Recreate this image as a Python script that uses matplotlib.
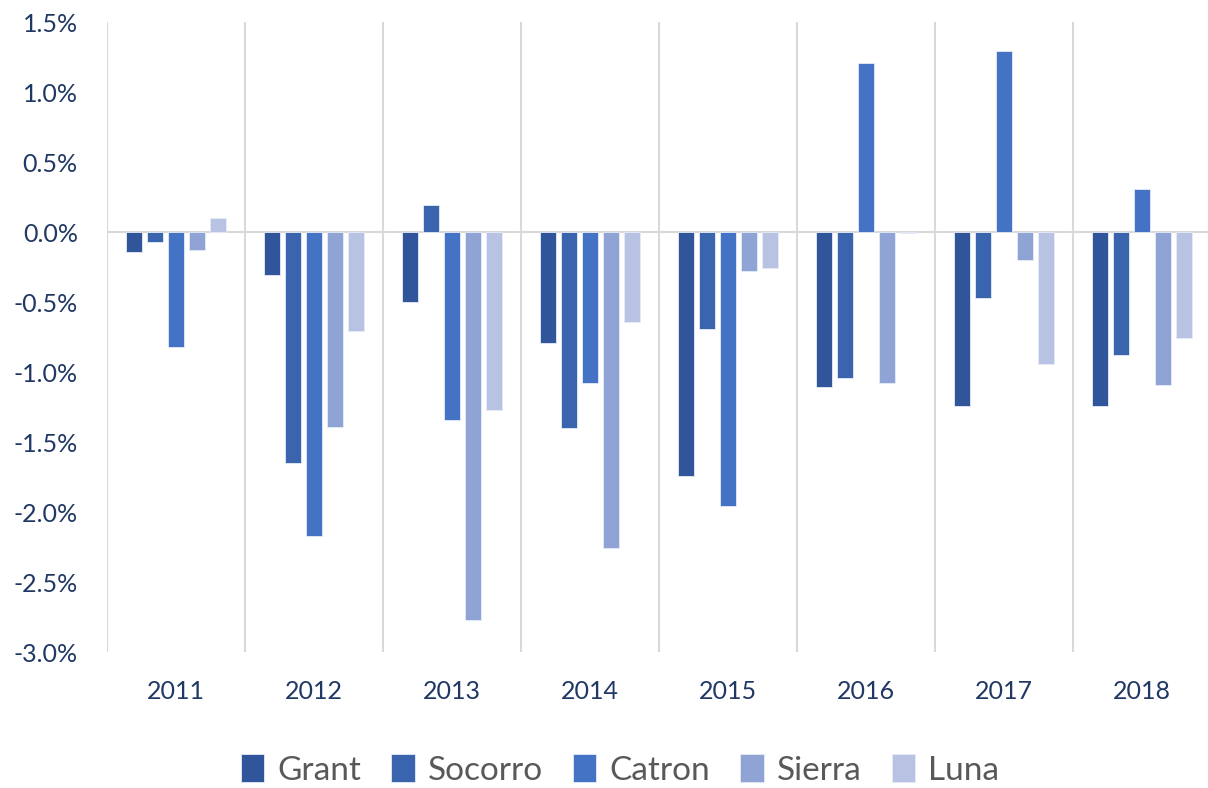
import matplotlib.pyplot as plt
import numpy as np

plt.rcParams['font.family'] = ['Lato', 'DejaVu Sans']

years = ['2011', '2012', '2013', '2014', '2015', '2016', '2017', '2018']
counties = ['Grant', 'Socorro', 'Catron', 'Sierra', 'Luna']
colors = ['#31559A', '#3A64AD', '#4472C4', '#8FA4D4', '#B8C2E2']

# percent change per county, one value per year
grant = [-0.14, -0.31, -0.50, -0.79, -1.74, -1.11, -1.24, -1.24]
socorro = [-0.07, -1.65, 0.19, -1.40, -0.69, -1.04, -0.47, -0.88]
catron = [-0.82, -2.17, -1.34, -1.08, -1.96, 1.21, 1.29, 0.31]
sierra = [-0.13, -1.39, -2.77, -2.26, -0.28, -1.08, -0.20, -1.09]
luna = [0.10, -0.71, -1.27, -0.64, -0.26, -0.01, -0.94, -0.76]
series = [grant, socorro, catron, sierra, luna]

fig = plt.figure(figsize=(12.08, 7.88), dpi=100)
ax = fig.add_axes([107 / 1208, 1 - 652 / 788, 1104 / 1208, 630 / 788])

x = np.arange(len(years))
slot = 0.152
bw = slot * 0.8
for i, (name, vals) in enumerate(zip(counties, series)):
    off = (i - 2) * slot
    ax.bar(x + off, vals, width=bw, color=colors[i], edgecolor='#E6ECF7',
           linewidth=0.6, label=name, zorder=3)

ax.set_xlim(-0.5, len(years) - 0.5)
ax.set_ylim(-3.0, 1.5)
ax.axhline(0, color='#D9D9D9', lw=1.5, zorder=2)
for b in np.arange(-0.5, len(years), 1.0):
    ax.axvline(b, color='#D9D9D9', lw=1.5, zorder=1)

for s in ax.spines.values():
    s.set_visible(False)

ax.set_yticks(np.arange(-3.0, 1.51, 0.5))
ax.set_yticklabels([f'{v:.1f}%' for v in np.arange(-3.0, 1.51, 0.5)])
ax.set_xticks(x)
ax.set_xticklabels(years)
ax.tick_params(axis='both', length=0, labelsize=18, colors='#203864')
ax.tick_params(axis='y', pad=21)
ax.tick_params(axis='x', pad=20)

fig.legend(loc='center', bbox_to_anchor=(620 / 1208, 1 - 770 / 788), ncol=5, frameon=False,
           fontsize=24, labelcolor='#595959', handlelength=0.7, handleheight=0.9,
           handletextpad=0.4, columnspacing=0.9)

fig.savefig('out.png', dpi=100)
